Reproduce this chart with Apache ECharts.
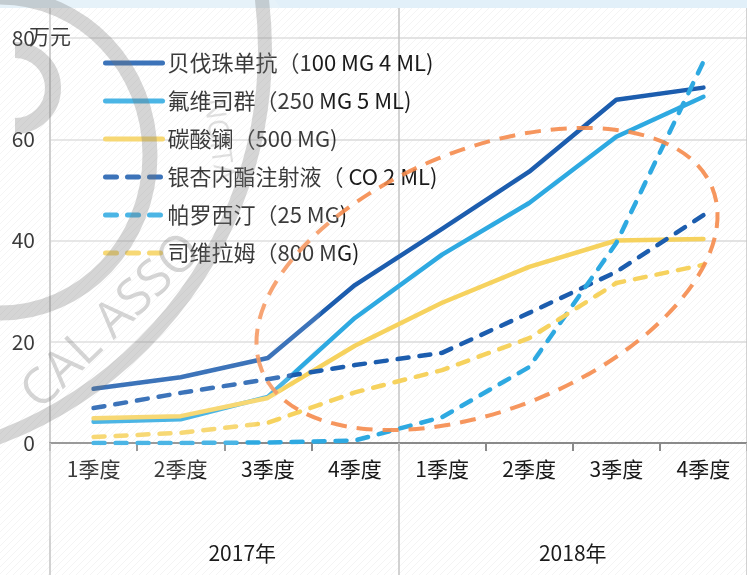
<!DOCTYPE html>
<html>
<head>
<meta charset="utf-8">
<style>
  html, body { margin: 0; padding: 0; background: #fff; }
  #main { width: 747px; height: 575px; }
</style>
<script src="https://cdn.jsdelivr.net/npm/echarts@6/dist/echarts.min.js"></script>
</head>
<body>
<div id="main"></div>
<script>
// x轴：季度 + 年份两级
var quarters = ['1季度', '2季度', '3季度', '4季度', '1季度', '2季度', '3季度', '4季度']
var years = ['2017年', '2018年']

var seriesNames = [
  '贝伐珠单抗（100 MG 4 ML)',
  '氟维司群（250 MG 5 ML)',
  '碳酸镧（500 MG)',
  '银杏内酯注射液（ CO 2 ML)',
  '帕罗西汀（25 MG)',
  '司维拉姆（800 MG)'
]

// 单位：万元
var bevacizumab = [10.7, 13.0, 16.8, 31.2, 42.3, 53.6, 67.8, 70.2]
var fulvestrant = [4.2, 4.7, 9.1, 24.7, 37.2, 47.4, 60.5, 68.4]
var lanthanum = [4.9, 5.3, 8.9, 19.2, 27.7, 34.8, 40.0, 40.3]
var ginkgolide = [6.9, 9.9, 12.6, 15.4, 17.8, 25.7, 33.8, 45.0]
var paroxetine = [0, 0, 0.1, 0.5, 5.1, 15.0, 39.5, 75.3]
var sevelamer = [1.2, 2.0, 4.0, 10.0, 14.4, 20.7, 31.6, 35.2]

var FONT = '"Noto Sans CJK SC", "Noto Sans", sans-serif'
var TXT = '#1a1a1a'
var DASH = [11, 11]

// 背景细斜纹
function hatch() {
  var c = document.createElement('canvas')
  c.width = 7
  c.height = 7
  var ctx = c.getContext('2d')
  ctx.strokeStyle = 'rgba(0,0,0,0.045)'
  ctx.lineWidth = 1
  ctx.beginPath()
  ctx.moveTo(-1, 8)
  ctx.lineTo(8, -1)
  ctx.stroke()
  return c
}

function lineSeries(name, data, color, dashed) {
  return {
    name: name,
    type: 'line',
    data: data,
    symbol: 'none',
    z: 3,
    lineStyle: {
      color: color,
      width: 4.5,
      type: dashed ? DASH : 'solid',
      cap: 'round',
      join: 'round'
    },
    itemStyle: { color: color }
  }
}

var chart = echarts.init(document.getElementById('main'))
var wmColor = 'rgba(115,115,115,0.3)'

chart.setOption({
  animation: false,
  backgroundColor: '#fff',
  textStyle: { fontFamily: FONT },
  grid: { left: 50, top: 38, width: 700, bottom: 132 },
  legend: {
    orient: 'vertical',
    left: 98,
    top: 46,
    itemWidth: 57,
    itemHeight: 14,
    itemGap: 14,
    data: seriesNames,
    itemStyle: { opacity: 0 },
    lineStyle: { width: 5 },
    textStyle: { fontSize: 22, lineHeight: 24, color: TXT, fontFamily: FONT }
  },
  xAxis: [
    {
      type: 'category',
      data: quarters,
      position: 'bottom',
      axisLine: { lineStyle: { color: '#8a8a8a', width: 2 } },
      axisTick: { show: true, length: 8, lineStyle: { color: '#8a8a8a', width: 2 } },
      axisLabel: { fontSize: 21, color: TXT, margin: 16, fontFamily: FONT },
      splitLine: { show: false }
    },
    {
      type: 'category',
      data: years,
      position: 'bottom',
      axisLine: { show: false },
      axisTick: { show: true, length: 132, lineStyle: { color: '#c4c4c4', width: 1.5 } },
      axisLabel: {
        fontSize: 21,
        color: TXT,
        margin: 100,
        fontFamily: FONT,
        formatter: function(v, i) {
          return i === 0 ? '{a|' + v + '}' : v
        },
        rich: { a: { fontSize: 21, color: TXT, padding: [0, 0, 0, 36], fontFamily: FONT } }
      },
      splitLine: { show: true, lineStyle: { color: '#c4c4c4', width: 1.5 } }
    },
    {
      type: 'category',
      data: years,
      position: 'top',
      axisLine: { show: false },
      axisTick: { show: true, length: 30, lineStyle: { color: '#c4c4c4', width: 1.5 } },
      axisLabel: { show: false },
      splitLine: { show: false }
    }
  ],
  yAxis: {
    type: 'value',
    min: 0,
    max: 80,
    interval: 20,
    name: '万元',
    nameLocation: 'end',
    nameGap: 2,
    nameMoveOverlap: false,
    nameTextStyle: { fontSize: 21, color: TXT, verticalAlign: 'middle', align: 'center', fontFamily: FONT },
    axisLine: { show: true, lineStyle: { color: '#c4c4c4', width: 1.5 } },
    axisTick: { show: false },
    axisLabel: { fontSize: 21, color: TXT, margin: 15, fontFamily: FONT },
    splitLine: { lineStyle: { color: '#dadada', width: 1.5 } }
  },
  series: [
    lineSeries(seriesNames[0], bevacizumab, '#1c5dae', false),
    lineSeries(seriesNames[1], fulvestrant, '#2ea9e1', false),
    lineSeries(seriesNames[2], lanthanum, '#f6d25e', false),
    lineSeries(seriesNames[3], ginkgolide, '#1c5dae', true),
    lineSeries(seriesNames[4], paroxetine, '#2ea9e1', true),
    lineSeries(seriesNames[5], sevelamer, '#f6d25e', true)
  ],
  graphic: [
    // 背景斜纹
    { type: 'rect', z: -10, silent: true, shape: { x: 0, y: 0, width: 747, height: 575 },
      style: { fill: { image: hatch(), repeat: 'repeat' } } },
    // 顶部浅蓝条
    { type: 'rect', z: 1, silent: true, shape: { x: 0, y: 0, width: 747, height: 8 },
      style: { fill: '#e2f0f9' } },
    // 橙色虚线椭圆标注
    { type: 'ellipse', z: 20, silent: true, x: 487, y: 279, rotation: 22 * Math.PI / 180,
      shape: { cx: 0, cy: 0, rx: 243, ry: 130 },
      style: { fill: 'none', stroke: '#f58b4c', lineWidth: 4, lineDash: [16, 10], opacity: 0.9 } },
    // 水印
    { type: 'circle', z: 25, silent: true, shape: { cx: 0, cy: 200, r: 340 },
      style: { fill: 'rgba(255,255,255,0.14)' } },
    { type: 'ellipse', z: 30, silent: true, shape: { cx: 0, cy: 155, rx: 150, ry: 158 },
      style: { fill: 'none', stroke: wmColor, lineWidth: 15 } },
    { type: 'circle', z: 30, silent: true, shape: { cx: -150, cy: 50, r: 415 },
      style: { fill: 'none', stroke: wmColor, lineWidth: 14 } },
    { type: 'arc', z: 30, silent: true, shape: { cx: 15, cy: 88, r: 38, startAngle: -Math.PI / 2, endAngle: Math.PI / 2 },
      style: { fill: 'none', stroke: wmColor, lineWidth: 16 } },
    { type: 'text', z: 30, silent: true, x: 112, y: 322, rotation: 44 * Math.PI / 180,
      style: { text: 'CAL ASSO', fill: wmColor, font: '50px "Open Sans", sans-serif', align: 'center', verticalAlign: 'middle' } },
    { type: 'text', z: 30, silent: true, x: 218, y: 140, rotation: -82 * Math.PI / 180,
      style: { text: 'NOITA', fill: 'rgba(115,115,115,0.22)', font: '28px "Open Sans", sans-serif', align: 'center', verticalAlign: 'middle' } }
  ]
})
</script>
</body>
</html>
